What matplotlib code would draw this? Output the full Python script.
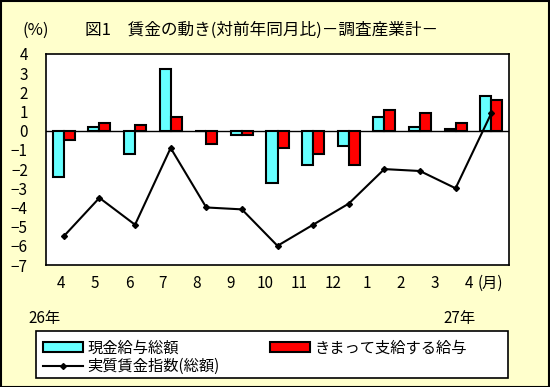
import matplotlib
matplotlib.use("Agg")
import matplotlib.pyplot as plt
import numpy as np
from matplotlib.patches import Rectangle

plt.rcParams['font.family'] = ['Noto Sans CJK JP', 'DejaVu Sans']

months = ['4', '5', '6', '7', '8', '9', '10', '11', '12', '1', '2', '3', '4']
cash_total = [-2.4, 0.2, -1.2, 3.2, 0.0, -0.2, -2.7, -1.8, -0.8, 0.7, 0.2, 0.1, 1.8]
scheduled = [-0.5, 0.4, 0.3, 0.7, -0.7, -0.2, -0.9, -1.2, -1.8, 1.1, 0.9, 0.4, 1.6]
real_wage = [-5.5, -3.5, -4.9, -0.9, -4.0, -4.1, -6.0, -4.9, -3.8, -2.0, -2.1, -3.0, 0.9]

bg = '#FFFFCC'
fig = plt.figure(figsize=(5.5, 3.87), dpi=100, facecolor=bg)
fig.patches.append(Rectangle((0.001, 0.001), 0.997, 0.997, transform=fig.transFigure,
                             fill=False, edgecolor='black', linewidth=1.5))

ax = fig.add_axes([46 / 550, 1 - 265 / 387, 463 / 550, 211 / 387])
ax.set_facecolor('white')

x = np.arange(len(months))
w = 0.31
ax.bar(x - w / 2, cash_total, w, color='#66FFFF', edgecolor='black', linewidth=1.5,
       label='現金給与総額', zorder=2)
ax.bar(x + w / 2, scheduled, w, color='#FF0000', edgecolor='black', linewidth=1.5,
       label='きまって支給する給与', zorder=2)
ax.plot(x, real_wage, color='black', linewidth=1.5, marker='D', markersize=3,
        label='実質賃金指数(総額)', zorder=3)
ax.axhline(0, color='black', linewidth=1, zorder=1)

ax.set_xlim(-0.5, len(months) - 0.5)
ax.set_ylim(-7, 4)
ax.set_yticks(range(-7, 5))
ax.set_yticklabels([str(v).replace('-', '−') for v in range(-7, 5)])
# month labels sit a little tighter than the categories, as in the original
ax.set_xticks(-0.08 + x * (11.46 / 12))
ax.set_xticklabels(months)
ax.tick_params(length=0, labelsize=11)
ax.tick_params(axis='x', pad=7)
ax.tick_params(axis='y', pad=13)
for s in ax.spines.values():
    s.set_linewidth(1.2)

fig.text(22 / 550, 1 - 30 / 387, '(%)', fontsize=12, va='center')
fig.text(85 / 550, 1 - 30 / 387, '図1　賃金の動き(対前年同月比)－調査産業計－', fontsize=12, va='center')
fig.text(478 / 550, 1 - 283 / 387, '(月)', fontsize=11, va='center')
fig.text(28 / 550, 1 - 318 / 387, '26年', fontsize=11, va='center')
fig.text(443 / 550, 1 - 318 / 387, '27年', fontsize=11, va='center')

# legend box
fig.patches.append(Rectangle((36 / 550, 1 - 378 / 387), 472 / 550, 47 / 387,
                             transform=fig.transFigure, facecolor='white',
                             edgecolor='black', linewidth=1.2, zorder=1))
h, l = ax.get_legend_handles_labels()
order = [1, 0, 2]
leg = fig.legend([h[i] for i in order], [l[i] for i in order], ncol=2,
                 loc='lower left', bbox_to_anchor=(40 / 550, 1 - 378 / 387, 430 / 550, 47 / 387),
                 mode='expand', fontsize=11, frameon=False,
                 handlelength=2.6, handleheight=0.6,
                 borderpad=0.2, labelspacing=0.1, handletextpad=0.3, borderaxespad=0)
leg.set_zorder(2)

fig.savefig('out.png', dpi=100, facecolor=bg)
